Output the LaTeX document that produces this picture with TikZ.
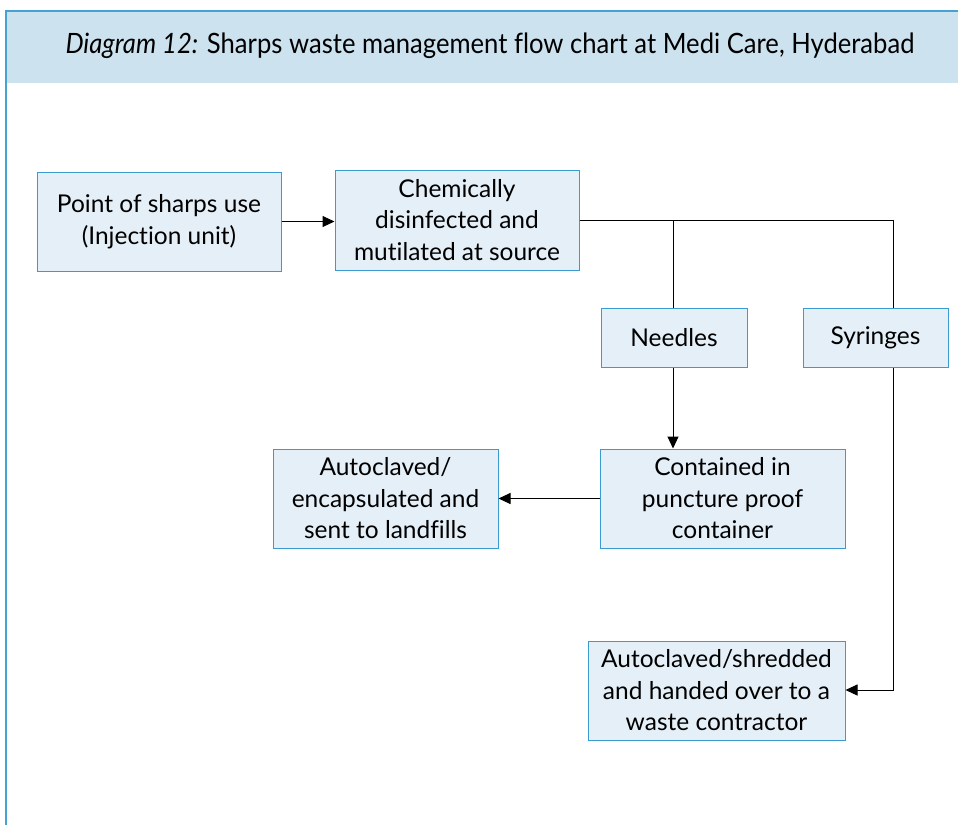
\documentclass[tikz,border=0pt]{standalone}
\usepackage{fontspec}
\setmainfont{Lato}[Ligatures=NoCommon]
\usetikzlibrary{arrows.meta}
\definecolor{frameblue}{HTML}{45A3D3}
\definecolor{headfill}{HTML}{CDE2EF}
\definecolor{boxfill}{HTML}{E4EFF7}
\definecolor{boxline}{HTML}{3B9AD0}
\begin{document}
\begin{tikzpicture}[x=1pt,y=-1pt,
  flowbox/.style={draw=boxline,fill=boxfill,line width=1pt,inner sep=0pt,
    align=center,font=\fontsize{24.5}{31.5}\selectfont},
  link/.style={draw=black,line width=1pt},
  arrowlink/.style={link,-{Triangle[length=12pt,width=11pt]}}]
  \useasboundingbox (0,0) rectangle (958,825);
  % header band and frame
  \fill[headfill] (6,11) rectangle (958,83);
  \draw[frameblue,line width=2pt] (6,825) -- (6,11) -- (958,11);
  \node (title) at (490,46) {\fontsize{28}{32}\selectfont\scalebox{0.915}[1]{\textit{Diagram 12:} Sharps waste management flow chart at Medi Care, Hyderabad}};
  % process boxes
  \node[flowbox,minimum width=244pt,minimum height=99pt] (use) at (159,221.5) {Point of sharps use\\(Injection unit)};
  \node[flowbox,minimum width=244pt,minimum height=100pt] (disinf) at (457,220) {Chemically\\disinfected and\\mutilated at source};
  \node[flowbox,minimum width=146pt,minimum height=59pt] (needles) at (674,337.5) {Needles};
  \node[flowbox,minimum width=145pt,minimum height=59pt] (syringes) at (875.5,337.5) {Syringes};
  \node[flowbox,minimum width=245pt,minimum height=99pt] (contain) at (722.5,498.5) {Contained in\\puncture proof\\container};
  \node[flowbox,minimum width=225pt,minimum height=99pt] (landfill) at (385.5,498.5) {Autoclaved/\\encapsulated and\\sent to landfills};
  \node[flowbox,minimum width=257pt,minimum height=99pt] (shred) at (716.5,690.5) {Autoclaved/shredded\\and handed over to a\\waste contractor};
  % connectors
  \coordinate (split) at (673,220);
  \coordinate (bend) at (893,220);
  \coordinate (turn) at (893,690);
  \draw[arrowlink] (use.east) -- (disinf.west |- use.east);
  \draw[link] (disinf.east |- split) -- (bend) -- (syringes.north -| bend);
  \draw[link] (split) -- (needles.north -| split);
  \draw[arrowlink] (needles.south -| split) -- (contain.north -| split);
  \draw[arrowlink] (contain.west) -- (landfill.east);
  \draw[arrowlink] (syringes.south -| turn) -- (turn) -- (shred.east |- turn);
\end{tikzpicture}
\end{document}
